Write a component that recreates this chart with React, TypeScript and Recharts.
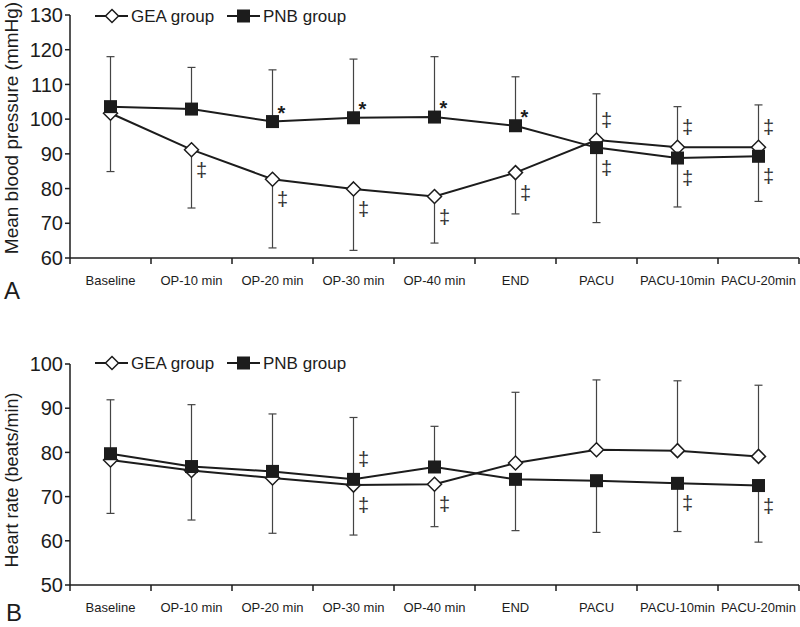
import React from "react";
import { ErrorBar, LabelList, Label, Legend, Line, LineChart, XAxis, YAxis } from "recharts";

const FONT = '"Liberation Sans", Arial, Helvetica, sans-serif';
const INK = "#1c1c1c";
const WIDTH = 800;
const Y_AXIS_W = 70;
const RIGHT = 1;

const categories = [
  "Baseline",
  "OP-10 min",
  "OP-20 min",
  "OP-30 min",
  "OP-40 min",
  "END",
  "PACU",
  "PACU-10min",
  "PACU-20min",
];

// panel A - mean blood pressure (mmHg)
const mbpGea = [101.7, 91.2, 82.7, 79.9, 77.7, 84.6, 94.0, 91.9, 91.9];
const mbpPnb = [103.6, 102.9, 99.3, 100.4, 100.6, 98.1, 91.8, 88.8, 89.3];
const mbpGeaSd = [16.8, 16.8, 19.8, 17.7, 13.4, 11.9, 13.3, 11.7, 12.2];
const mbpPnbSd = [14.4, 12.0, 14.9, 16.9, 17.4, 14.1, 21.6, 14.1, 13.0];
const mbpGeaSide = ["down", "down", "down", "down", "down", "down", "up", "up", "up"];
const mbpPnbSide = ["up", "up", "up", "up", "up", "up", "down", "down", "down"];
const mbpGeaMark = ["", "‡", "‡", "‡", "‡", "‡", "‡", "‡", "‡"];
const mbpPnbMark = ["", "", "*", "*", "*", "*", "‡", "‡", "‡"];
const mbpTicks = [60, 70, 80, 90, 100, 110, 120, 130];

// panel B - heart rate (beats/min)
const hrGea = [78.3, 75.9, 74.2, 72.6, 72.8, 77.6, 80.6, 80.4, 79.1];
const hrPnb = [79.7, 76.8, 75.7, 73.9, 76.7, 73.9, 73.6, 73.0, 72.5];
const hrGeaSd = [12.1, 11.2, 12.5, 11.3, 9.6, 16.0, 15.8, 15.8, 16.1];
const hrPnbSd = [12.2, 14.0, 13.0, 14.0, 9.2, 11.6, 11.7, 10.9, 12.8];
const hrGeaSide = ["down", "down", "down", "down", "down", "up", "up", "up", "up"];
const hrPnbSide = ["up", "up", "up", "up", "up", "down", "down", "down", "down"];
const hrGeaMark = ["", "", "", "‡", "‡", "", "", "", ""];
const hrPnbMark = ["", "", "", "‡", "", "", "", "‡", "‡"];
const hrTicks = [50, 60, 70, 80, 90, 100];

const band = (WIDTH - Y_AXIS_W - RIGHT) / categories.length;
const boundaryTicks = categories.map((_, i) => i).concat(categories.length);

function buildRows(gea, geaSd, geaSide, geaMark, pnb, pnbSd, pnbSide, pnbMark) {
  return categories.map((label, i) => ({
    pos: i + 0.5,
    label,
    gea: gea[i],
    geaErr: geaSide[i] === "up" ? [0, geaSd[i]] : [geaSd[i], 0],
    geaMark: geaMark[i],
    pnb: pnb[i],
    pnbErr: pnbSide[i] === "up" ? [0, pnbSd[i]] : [pnbSd[i], 0],
    pnbMark: pnbMark[i],
  }));
}

const rowsA = buildRows(mbpGea, mbpGeaSd, mbpGeaSide, mbpGeaMark, mbpPnb, mbpPnbSd, mbpPnbSide, mbpPnbMark);
const rowsB = buildRows(hrGea, hrGeaSd, hrGeaSide, hrGeaMark, hrPnb, hrPnbSd, hrPnbSide, hrPnbMark);

const Diamond = (p: any) => {
  const { cx, cy } = p;
  if (cx == null || cy == null) return <g />;
  const r = 7;
  return (
    <polygon
      points={`${cx},${cy - r} ${cx + r},${cy} ${cx},${cy + r} ${cx - r},${cy}`}
      fill="#fff"
      stroke={INK}
      strokeWidth={1.5}
    />
  );
};

const Square = (p: any) => {
  const { cx, cy } = p;
  if (cx == null || cy == null) return <g />;
  return <rect x={cx - 6.5} y={cy - 6.5} width={13} height={13} fill={INK} />;
};

const XTick = (p: any) => {
  const i = p.payload?.value;
  if (i == null || i >= categories.length) return <g />;
  return (
    <text x={p.x + band / 2} y={p.y + 18.5} textAnchor="middle" fontSize={13} fill={INK} fontFamily={FONT}>
      {categories[i]}
    </text>
  );
};

const markContent = (sides: string[]) => (p: any) => {
  const v = p.value;
  if (!v) return <g />;
  const vb = p.viewBox || {};
  const x = p.x ?? vb.x;
  const y = p.y ?? vb.y;
  const up = sides[p.index] === "up";
  if (v === "*") {
    return (
      <text x={x + 9} y={y - 9} textAnchor="middle" dominantBaseline="central" fontSize={20} fontWeight="bold" fill={INK} fontFamily={FONT}>
        *
      </text>
    );
  }
  return (
    <text x={x + 10} y={up ? y - 20 : y + 20} textAnchor="middle" dominantBaseline="central" fontSize={20} fill="#333" fontFamily={FONT}>
      ‡
    </text>
  );
};

const LegendBox = () => (
  <svg width={300} height={24} style={{ display: "block", overflow: "visible" }}>
    <line x1={0} y1={12} x2={33} y2={12} stroke={INK} strokeWidth={2} />
    <polygon points="17,5.5 23.5,12 17,18.5 10.5,12" fill="#fff" stroke={INK} strokeWidth={1.5} />
    <text x={36} y={12} dominantBaseline="central" fontSize={17} fill={INK} fontFamily={FONT}>
      GEA group
    </text>
    <line x1={132} y1={12} x2={165} y2={12} stroke={INK} strokeWidth={2} />
    <rect x={142} y={5.5} width={13} height={13} fill={INK} />
    <text x={168} y={12} dominantBaseline="central" fontSize={17} fill={INK} fontFamily={FONT}>
      PNB group
    </text>
  </svg>
);

function Panel({ rows, geaSide, pnbSide, ticks, yLabel, yLabelSize, labelY, letter, letterX, letterY, height, top, xAxisHeight, legendTop }) {
  return (
    <LineChart width={WIDTH} height={height} data={rows} margin={{ top, right: RIGHT, bottom: 0, left: 0 }}>
      <XAxis
        type="number"
        dataKey="pos"
        domain={[0, categories.length]}
        ticks={boundaryTicks}
        interval={0}
        height={xAxisHeight}
        tick={<XTick />}
        tickSize={6}
        tickMargin={2}
        axisLine={{ stroke: INK, strokeWidth: 1.5 }}
        tickLine={{ stroke: INK, strokeWidth: 1.5 }}
      />
      <YAxis
        type="number"
        domain={[ticks[0], ticks[ticks.length - 1]]}
        ticks={ticks}
        interval={0}
        width={Y_AXIS_W}
        tickSize={5}
        tickMargin={2}
        tick={{ fontSize: 20, fill: INK, fontFamily: FONT }}
        axisLine={{ stroke: INK, strokeWidth: 1.5 }}
        tickLine={{ stroke: INK, strokeWidth: 1.5 }}
      >
        <Label
          content={() => (
            <g>
              <text
                x={18}
                y={labelY}
                transform={`rotate(-90, 18, ${labelY})`}
                textAnchor="middle"
                fontSize={yLabelSize}
                fill={INK}
                fontFamily={FONT}
              >
                {yLabel}
              </text>
              <text x={letterX} y={letterY} fontSize={24} fill={INK} fontFamily={FONT}>
                {letter}
              </text>
            </g>
          )}
        />
      </YAxis>
      <Legend
        layout="vertical"
        align="center"
        verticalAlign="middle"
        content={<LegendBox />}
        wrapperStyle={{ left: 95, top: legendTop, width: 300, height: 24 }}
      />
      <Line
        dataKey="gea"
        name="GEA group"
        stroke={INK}
        strokeWidth={2}
        dot={<Diamond />}
        activeDot={false}
        isAnimationActive={false}
      >
        <ErrorBar dataKey="geaErr" direction="y" width={4} stroke="#444" strokeWidth={1.2} />
        <LabelList dataKey="geaMark" content={markContent(geaSide)} />
      </Line>
      <Line
        dataKey="pnb"
        name="PNB group"
        stroke={INK}
        strokeWidth={2}
        dot={<Square />}
        activeDot={false}
        isAnimationActive={false}
      >
        <ErrorBar dataKey="pnbErr" direction="y" width={4} stroke="#444" strokeWidth={1.2} />
        <LabelList dataKey="pnbMark" content={markContent(pnbSide)} />
      </Line>
    </LineChart>
  );
}

export default function App() {
  return (
    <div style={{ position: "absolute", left: 0, top: 0, width: WIDTH, height: 627, background: "#fff" }}>
      <div style={{ position: "absolute", left: 0, top: 0 }}>
        <Panel
          rows={rowsA}
          geaSide={mbpGeaSide}
          pnbSide={mbpPnbSide}
          ticks={mbpTicks}
          yLabel="Mean blood pressure (mmHg)"
          yLabelSize={19}
          labelY={128}
          letter="A"
          letterX={4}
          letterY={299}
          height={305}
          top={15}
          xAxisHeight={47}
          legendTop={4}
        />
      </div>
      <div style={{ position: "absolute", left: 0, top: 300 }}>
        <Panel
          rows={rowsB}
          geaSide={hrGeaSide}
          pnbSide={hrPnbSide}
          ticks={hrTicks}
          yLabel="Heart rate (beats/min)"
          yLabelSize={18}
          labelY={180}
          letter="B"
          letterX={6}
          letterY={321}
          height={327}
          top={64}
          xAxisHeight={42}
          legendTop={51}
        />
      </div>
    </div>
  );
}
